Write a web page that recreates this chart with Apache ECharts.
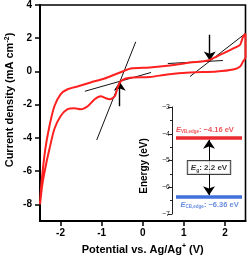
<!DOCTYPE html>
<html><head><meta charset="utf-8">
<script src="https://cdn.jsdelivr.net/npm/echarts@6/dist/echarts.min.js"></script>
<style>html,body{margin:0;padding:0;background:#fff}#c{width:249px;height:260px}</style>
</head><body><div id="c"></div><script>
// Cyclic voltammogram (upper sweep left->right, lower sweep right->left)
const upperX = [-2.5,-2.46,-2.37,-2.27,-2.15,-2.0,-1.83,-1.59,-1.27,-0.93,-0.68,-0.49,-0.29,0.17,0.66,1.15,1.59,1.80,2.05,2.24,2.37,2.44,2.5];
const upperY = [-8.0,-6.6,-4.66,-3.28,-2.09,-1.37,-1.07,-0.90,-0.66,-0.42,-0.18,0.0,0.18,0.24,0.36,0.54,0.66,0.90,1.19,1.43,1.61,2.09,2.27];
const lowerX = [2.5,2.44,2.37,2.2,1.8,1.15,0.59,0.17,-0.24,-0.41,-0.54,-0.61,-0.68,-0.8,-0.9,-1.02,-1.17,-1.34,-1.51,-1.66,-1.83,-2.0,-2.15,-2.27,-2.34,-2.44,-2.5];
const lowerY = [0.84,0.6,0.3,0.12,0.0,-0.06,-0.18,-0.33,-0.36,-0.42,-0.6,-0.96,-1.49,-1.67,-1.61,-1.49,-1.67,-2.09,-2.27,-2.21,-2.27,-2.69,-3.46,-4.66,-5.43,-6.75,-8.0];
// Tangent lines and onset arrows (data units)
const leftFlat = [[-1.41,-1.19],[0.2,-0.06]];
const leftSteep = [[-1.12,-4.12],[-0.17,1.79]];
const leftArrow = [[-0.56,-2.09],[-0.56,-0.62]];
const rightFlat = [[0.61,0.48],[1.95,0.66]];
const rightSteep = [[1.15,-0.30],[2.49,2.27]];
const rightArrow = [[1.63,2.21],[1.63,0.66]];
// Axis ticks
const xTicks = [-2,-1,0,1,2];
const yTicks = [-8,-6,-4,-2,0,2,4];
// Inset energy levels
const vbEdge = -4.16;
const cbEdge = -6.36;
const bandGap = 2.2;
const bandX = [0,1];

const loop = upperX.map((x,i)=>[x,upperY[i]]).concat(lowerX.map((x,i)=>[x,lowerY[i]]));
const FONT = 'Liberation Sans, Arial, sans-serif';
const RED = '#ff2020', IRED = '#ea2a2e', IBLUE = '#4170d8';
const gapMid = (vbEdge + cbEdge) / 2;

function edgeLabel(name, val, color, pos){
  return {show:true, position:pos, align:'left', verticalAlign:'middle',
    formatter:'{e|E}{s|'+name+'}{t|: \u2212'+Math.abs(val).toFixed(2)+' eV}',
    rich:{e:{fontFamily:FONT, fontWeight:'bold', fontStyle:'italic', fontSize:7.5, color:color, lineHeight:9},
          s:{fontFamily:FONT, fontWeight:'bold', fontSize:4.5, color:color, verticalAlign:'bottom', lineHeight:9},
          t:{fontFamily:FONT, fontWeight:'bold', fontSize:7.5, color:color, lineHeight:9}}};
}

const chart = echarts.init(document.getElementById('c'), null, {renderer:'canvas'});
chart.setOption({
  animation:false,
  grid:[
    {left:40, right:3.5, top:5, bottom:37.5, show:true, borderColor:'#000', borderWidth:1.6, backgroundColor:'transparent'},
    {left:176, right:7, top:107, bottom:46}
  ],
  xAxis:[
    {type:'value', min:-2.5, max:2.5, gridIndex:0,
     name:'Potential vs. Ag/Ag{s|+} (V)', nameLocation:'middle', nameGap:19,
     nameTextStyle:{fontFamily:FONT, fontWeight:'bold', fontSize:11, color:'#000',
       rich:{s:{fontFamily:FONT, fontWeight:'bold', fontSize:7, verticalAlign:'top', padding:[0,0,6,0]}}},
     axisLine:{onZero:false, lineStyle:{color:'#000', width:2}},
     axisTick:{length:5, lineStyle:{color:'#000', width:1.5}, customValues:xTicks},
     axisLabel:{fontFamily:FONT, fontWeight:'bold', fontSize:10, color:'#000', margin:7, customValues:xTicks},
     splitLine:{show:false}},
    {type:'value', min:0, max:1, gridIndex:1, show:false}
  ],
  yAxis:[
    {type:'value', min:-9, max:4, gridIndex:0,
     axisLine:{onZero:false, lineStyle:{color:'#000', width:2}},
     axisTick:{length:5, lineStyle:{color:'#000', width:1.5}, customValues:yTicks},
     axisLabel:{fontFamily:FONT, fontWeight:'bold', fontSize:10, color:'#000', margin:8, customValues:yTicks},
     splitLine:{show:false}},
    {type:'value', min:-7, max:-3, interval:1, gridIndex:1, offset:4,
     axisLine:{show:true, onZero:false, lineStyle:{color:'#222', width:1}},
     axisTick:{show:true, length:4, lineStyle:{color:'#222', width:1}},
     minorTick:{show:true, splitNumber:2, length:2, lineStyle:{color:'#222', width:1}},
     axisLabel:{fontFamily:FONT, fontSize:7, color:'#222', margin:2, formatter:v=>String(v).replace('-','\u2212')},
     splitLine:{show:false}}
  ],
  graphic:[
    {type:'text', x:10, y:100, rotation:Math.PI/2,
     style:{text:'Current density (mA cm{s|-2})', font:'bold 11px '+FONT, fill:'#000', align:'center', verticalAlign:'middle',
       rich:{s:{font:'bold 7px '+FONT, verticalAlign:'top', padding:[0,0,6,0]}}}},
    {type:'text', x:144, y:166, rotation:Math.PI/2,
     style:{text:'Energy (eV)', font:'bold 10px '+FONT, fill:'#000', align:'center', verticalAlign:'middle'}}
  ],
  series:[
    {type:'line', xAxisIndex:0, yAxisIndex:0, data:loop, showSymbol:false, smooth:0.25,
     lineStyle:{color:RED, width:2}},
    {type:'lines', coordinateSystem:'cartesian2d', xAxisIndex:0, yAxisIndex:0,
     lineStyle:{color:'#111', width:1, opacity:1}, symbol:'none',
     data:[{coords:leftFlat},{coords:leftSteep},{coords:rightFlat},{coords:rightSteep}]},
    {type:'lines', coordinateSystem:'cartesian2d', xAxisIndex:0, yAxisIndex:0,
     lineStyle:{color:'#000', width:1.4, opacity:1}, symbol:['none','arrow'], symbolSize:[6,9],
     data:[{coords:leftArrow},{coords:rightArrow}]},
    // inset
    {type:'line', xAxisIndex:1, yAxisIndex:1, data:bandX.map(x=>[x,vbEdge]), showSymbol:false,
     lineStyle:{color:IRED, width:3.5}},
    {type:'line', xAxisIndex:1, yAxisIndex:1, data:bandX.map(x=>[x,cbEdge]), showSymbol:false,
     lineStyle:{color:IBLUE, width:3.5}},
    {type:'lines', coordinateSystem:'cartesian2d', xAxisIndex:1, yAxisIndex:1,
     lineStyle:{color:'#000', width:1, opacity:1}, symbol:['none','arrow'], symbolSize:[7,9],
     data:[{coords:[[0.5,gapMid],[0.5,vbEdge-0.06]]},{coords:[[0.5,gapMid],[0.5,cbEdge+0.06]]}]},
    {type:'scatter', xAxisIndex:1, yAxisIndex:1, symbolSize:0, silent:true, z:10,
     data:[
      {value:[0,vbEdge], label:edgeLabel('VB,edge', vbEdge, IRED, [0,-8])},
      {value:[0.07,cbEdge], label:edgeLabel('CB,edge', cbEdge, IBLUE, [0,8])},
      {value:[0.5,gapMid], label:{show:true, position:[0,0], align:'center', verticalAlign:'middle',
        backgroundColor:'#fff', borderColor:'#111', borderWidth:1, padding:[2,3,1,3],
        formatter:'{e|E}{s|g}{t|: '+bandGap.toFixed(1)+' eV}',
        rich:{e:{fontFamily:FONT, fontWeight:'bold', fontStyle:'italic', fontSize:8, color:'#000', lineHeight:10},
              s:{fontFamily:FONT, fontWeight:'bold', fontSize:5, color:'#000', verticalAlign:'bottom', lineHeight:10},
              t:{fontFamily:FONT, fontWeight:'bold', fontSize:8, color:'#000', lineHeight:10}}}}
     ]}
  ]
});
</script></body></html>
